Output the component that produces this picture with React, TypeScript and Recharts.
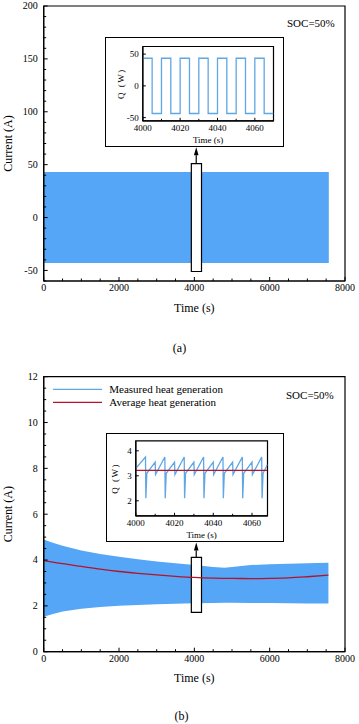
import React from 'react';
import { ComposedChart, LineChart, Line, Area, XAxis, YAxis, ReferenceArea, ReferenceLine } from 'recharts';

const FONT = "'Liberation Serif', 'Times New Roman', Times, serif";
const BAND_BLUE = '#55A6F6';
const LINE_BLUE = '#5EA6E4';
const RED = '#B3142C';

// ---------- (a) main chart ----------
const A_TIME = [0, 7570];
const A_LOW = [-43, -43];
const A_HIGH = [43, 43];
const A_X_TICKS = [0, 500, 1000, 1500, 2000, 2500, 3000, 3500, 4000, 4500, 5000, 5500, 6000, 6500, 7000, 7500, 8000];
const A_X_LABELS = [0, 2000, 4000, 6000, 8000];
const A_Y_TICKS = [-60, -50, -40, -30, -20, -10, 0, 10, 20, 30, 40, 50, 60, 70, 80, 90, 100, 110, 120, 130, 140, 150, 160, 170, 180, 190, 200];
const A_Y_LABELS = [-50, 0, 50, 100, 150, 200];

// ---------- (a) inset ----------
const A_IN_TIME = [4000, 4005, 4005, 4010, 4010, 4015, 4015, 4020, 4020, 4025, 4025, 4030, 4030, 4035, 4035, 4040, 4040, 4045, 4045, 4050, 4050, 4055, 4055, 4060, 4060, 4065, 4065, 4070];
const A_IN_Q = [43.5, 43.5, -43.5, -43.5, 43.5, 43.5, -43.5, -43.5, 43.5, 43.5, -43.5, -43.5, 43.5, 43.5, -43.5, -43.5, 43.5, 43.5, -43.5, -43.5, 43.5, 43.5, -43.5, -43.5, 43.5, 43.5, -43.5, -43.5];
const A_IN_X_TICKS = [4000, 4010, 4020, 4030, 4040, 4050, 4060, 4070];
const A_IN_X_LABELS = [4000, 4020, 4040, 4060];
const A_IN_Y_TICKS = [-50, 0, 50];

// ---------- (b) main chart ----------
const B_TIME = [0, 200, 500, 1000, 1500, 2000, 2500, 3000, 3500, 4000, 4500, 4800, 5000, 5500, 6000, 6500, 7000, 7560];
const B_UPPER = [4.9, 4.78, 4.62, 4.42, 4.26, 4.14, 4.03, 3.94, 3.86, 3.78, 3.7, 3.66, 3.7, 3.78, 3.82, 3.84, 3.86, 3.88];
const B_LOWER = [1.52, 1.62, 1.75, 1.87, 1.95, 2.0, 2.04, 2.07, 2.09, 2.11, 2.13, 2.14, 2.14, 2.13, 2.12, 2.11, 2.1, 2.1];
const B_AVG = [3.97, 3.92, 3.84, 3.72, 3.6, 3.5, 3.42, 3.35, 3.29, 3.24, 3.21, 3.2, 3.2, 3.19, 3.2, 3.22, 3.27, 3.34];
const B_X_TICKS = A_X_TICKS;
const B_X_LABELS = A_X_LABELS;
const B_Y_TICKS = [0, 0.5, 1, 1.5, 2, 2.5, 3, 3.5, 4, 4.5, 5, 5.5, 6, 6.5, 7, 7.5, 8, 8.5, 9, 9.5, 10, 10.5, 11, 11.5, 12];
const B_Y_LABELS = [0, 2, 4, 6, 8, 10, 12];

// ---------- (b) inset ----------
const B_IN_TIME = [4000, 4005, 4005.2, 4005.7, 4010, 4010.2, 4015, 4015.2, 4015.7, 4020, 4020.2, 4025, 4025.2, 4025.7, 4030, 4030.2, 4035, 4035.2, 4035.7, 4040, 4040.2, 4045, 4045.2, 4045.7, 4050, 4050.2, 4055, 4055.2, 4055.7, 4060, 4060.2, 4065, 4065.2, 4065.7, 4068];
const B_IN_Q = [3.3, 3.75, 2.1, 3.1, 3.55, 3.05, 3.75, 2.1, 3.1, 3.55, 3.05, 3.75, 2.1, 3.1, 3.55, 3.05, 3.75, 2.1, 3.1, 3.55, 3.05, 3.75, 2.1, 3.1, 3.55, 3.05, 3.75, 2.1, 3.1, 3.55, 3.05, 3.75, 2.1, 3.1, 3.45];
const B_IN_AVG_TIME = [4000, 4068];
const B_IN_AVG = [3.22, 3.22];
const B_IN_X_TICKS = [4000, 4010, 4020, 4030, 4040, 4050, 4060];
const B_IN_X_LABELS = [4000, 4020, 4040, 4060];
const B_IN_Y_TICKS = [2, 3, 4];

// ---------- tables ----------
const aData = A_TIME.map((t, i) => ({ t, band: [A_LOW[i], A_HIGH[i]] }));
const aInData = A_IN_TIME.map((t, i) => ({ t, q: A_IN_Q[i] }));
const bData = B_TIME.map((t, i) => ({ t, band: [B_LOWER[i], B_UPPER[i]], avg: B_AVG[i] }));
const bInData = B_IN_TIME.map((t, i) => ({ t, q: B_IN_Q[i] }));
const bInAvgData = B_IN_AVG_TIME.map((t, i) => ({ t, avg: B_IN_AVG[i] }));

const leftTick = (labels: number[], margin: number, majorLen: number, minorLen: number, fs: number) => (props: any) => {
  const { x, y, payload } = props;
  const v = payload.value;
  const major = labels.includes(v);
  const ax = x + margin;
  return (
    <g>
      <line x1={ax} x2={ax + (major ? majorLen : minorLen)} y1={y} y2={y} stroke="#000" strokeWidth={1} />
      {major && (
        <text x={x} y={y} dy="0.34em" textAnchor="end" fontSize={fs} fontFamily={FONT} fill="#000">{String(v)}</text>
      )}
    </g>
  );
};

const bottomTick = (labels: number[], margin: number, majorLen: number, minorLen: number, fs: number) => (props: any) => {
  const { x, y, payload } = props;
  const v = payload.value;
  const major = labels.includes(v);
  const ay = y - margin;
  return (
    <g>
      <line x1={x} x2={x} y1={ay} y2={ay - (major ? majorLen : minorLen)} stroke="#000" strokeWidth={1} />
      {major && (
        <text x={x} y={y} dy="0.78em" textAnchor="middle" fontSize={fs} fontFamily={FONT} fill="#000">{String(v)}</text>
      )}
    </g>
  );
};

// dx measured from the axis line (right edge of the y-axis box)
const vLabel = (text: string, dx: number, fs: number, spacing = 0) => (props: any) => {
  const vb = props.viewBox || {};
  const cx = vb.x + vb.width + dx;
  const cy = vb.y + vb.height / 2;
  return (
    <text x={cx} y={cy} transform={`rotate(-90 ${cx} ${cy})`} textAnchor="middle" dominantBaseline="central" fontSize={fs} fontFamily={FONT} fill="#000" letterSpacing={spacing}>{text}</text>
  );
};

// dy measured from the axis line (top of the x-axis box)
const hLabel = (text: string, dy: number, fs: number) => (props: any) => {
  const vb = props.viewBox || {};
  const cx = vb.x + vb.width / 2;
  const cy = vb.y + dy;
  return (
    <text x={cx} y={cy} textAnchor="middle" dominantBaseline="central" fontSize={fs} fontFamily={FONT} fill="#000">{text}</text>
  );
};

const Arrow = (p: any) => {
  const { x1, y1, x2, y2 } = p;
  const headLen = 8;
  const headW = 2.3;
  const dir = y2 < y1 ? -1 : 1;
  const baseY = y2 - dir * headLen;
  return (
    <g>
      <line x1={x1} y1={y1} x2={x2} y2={baseY} stroke="#000" strokeWidth={1.2} />
      <polygon points={`${x2},${y2} ${x2 - headW},${baseY} ${x2 + headW},${baseY}`} fill="#000" />
    </g>
  );
};

const abs = (left: number, top: number, extra: React.CSSProperties = {}): React.CSSProperties => ({
  position: 'absolute', left, top, ...extra,
});

const textStyle = (fs: number): React.CSSProperties => ({ fontFamily: FONT, fontSize: fs, lineHeight: `${fs + 1}px`, color: '#000', whiteSpace: 'nowrap' });

export default function App() {
  return (
    <div style={{ position: 'absolute', left: 0, top: 0, width: 359, height: 724, background: '#fff', fontFamily: FONT }}>
      {/* ===== (a) ===== */}
      <div style={abs(0, 0)}>
        <ComposedChart width={359} height={330} data={aData} margin={{ top: 6, right: 14, bottom: 19, left: 3.7 }}>
          <XAxis dataKey="t" type="number" domain={[0, 8000]} ticks={A_X_TICKS} interval={0} allowDataOverflow
            height={30} tickSize={0} tickMargin={2} tickLine={false} axisLine={{ stroke: '#000', strokeWidth: 1.2 }}
            tick={bottomTick(A_X_LABELS, 2, 4, 2.5, 10)} label={{ content: hLabel('Time (s)', 27, 12) }} />
          <YAxis type="number" domain={[-60, 200]} ticks={A_Y_TICKS} interval={0} allowDataOverflow
            width={40} tickSize={0} tickMargin={6} tickLine={false} axisLine={{ stroke: '#000', strokeWidth: 1.2 }}
            tick={leftTick(A_Y_LABELS, 6, 4, 2.5, 10)} label={{ content: vLabel('Current (A)', -36, 12) }} />
          <Area dataKey="band" type="linear" stroke="none" fill={BAND_BLUE} fillOpacity={1} isAnimationActive={false} />
          <ReferenceArea x1={3920} x2={4190} y1={-51} y2={51} fill="#fff" fillOpacity={1} stroke="#000" strokeWidth={1.2} />
          <ReferenceLine segment={[{ x: 4050, y: 51 }, { x: 4050, y: 66.5 }]} shape={Arrow} />
          <ReferenceArea x1={0} x2={8000} y1={-60} y2={200} fill="none" stroke="#000" strokeWidth={1.2} ifOverflow="visible" />
        </ComposedChart>
      </div>
      <div style={abs(287, 17, textStyle(11))}>SOC=50%</div>

      {/* (a) inset */}
      <div style={abs(105, 36.7, { width: 179, height: 110, border: '1.5px solid #000', boxSizing: 'border-box', background: '#fff' })}>
        <LineChart width={176} height={107} data={aInData} margin={{ top: 8.5, right: 8.5, bottom: 4.2, left: 6.8 }}>
          <XAxis dataKey="t" type="number" domain={[4000, 4070]} ticks={A_IN_X_TICKS} interval={0} allowDataOverflow
            height={20} tickSize={0} tickMargin={3.5} tickLine={false} axisLine={{ stroke: '#000', strokeWidth: 1.2 }}
            tick={bottomTick(A_IN_X_LABELS, 3.5, 3, 2, 9)} label={{ content: hLabel('Time (s)', 19, 9) }} />
          <YAxis type="number" domain={[-55, 62]} ticks={A_IN_Y_TICKS} interval={0} allowDataOverflow
            width={30} tickSize={0} tickMargin={4} tickLine={false} axisLine={{ stroke: '#000', strokeWidth: 1.2 }}
            tick={leftTick(A_IN_Y_TICKS, 4, 3, 2, 9)} label={{ content: vLabel('Q (W)', -21.6, 9, 1.5) }} />
          <Line dataKey="q" type="linear" stroke={LINE_BLUE} strokeWidth={1.3} dot={false} isAnimationActive={false} />
          <ReferenceArea x1={4000} x2={4070} y1={-55} y2={62} fill="none" stroke="#000" strokeWidth={1.2} ifOverflow="visible" />
        </LineChart>
      </div>

      <div style={abs(0, 342, textStyle(12))}>
        <span style={{ position: 'absolute', left: 179.5, transform: 'translateX(-50%)' }}>(a)</span>
      </div>

      {/* ===== (b) ===== */}
      <div style={abs(0, 360)}>
        <ComposedChart width={359} height={364} data={bData} margin={{ top: 16.7, right: 14, bottom: 42.3, left: 3.7 }}>
          <XAxis dataKey="t" type="number" domain={[0, 8000]} ticks={B_X_TICKS} interval={0} allowDataOverflow
            height={30} tickSize={0} tickMargin={2.5} tickLine={false} axisLine={{ stroke: '#000', strokeWidth: 1.2 }}
            tick={bottomTick(B_X_LABELS, 2.5, 4, 2.5, 10)} label={{ content: hLabel('Time (s)', 26.5, 12) }} />
          <YAxis type="number" domain={[0, 12]} ticks={B_Y_TICKS} interval={0} allowDataOverflow
            width={40} tickSize={0} tickMargin={6} tickLine={false} axisLine={{ stroke: '#000', strokeWidth: 1.2 }}
            tick={leftTick(B_Y_LABELS, 6, 4, 2.5, 10)} label={{ content: vLabel('Current (A)', -36, 12) }} />
          <Area dataKey="band" type="linear" stroke="none" fill={BAND_BLUE} fillOpacity={1} isAnimationActive={false} />
          <Line dataKey="avg" type="monotone" stroke={RED} strokeWidth={1.3} dot={false} isAnimationActive={false} />
          <ReferenceArea x1={3920} x2={4190} y1={1.72} y2={4.12} fill="#fff" fillOpacity={1} stroke="#000" strokeWidth={1.2} />
          <ReferenceLine segment={[{ x: 4050, y: 4.12 }, { x: 4050, y: 4.76 }]} shape={Arrow} />
          <ReferenceArea x1={0} x2={8000} y1={0} y2={12} fill="none" stroke="#000" strokeWidth={1.2} ifOverflow="visible" />
        </ComposedChart>
      </div>
      <div style={abs(286, 389, textStyle(11))}>SOC=50%</div>

      {/* legend (b) */}
      <div style={abs(53, 383)}>
        <svg width={50} height={24} style={{ position: 'absolute', left: 0, top: 0 }}>
          <line x1={0} x2={49} y1={6.3} y2={6.3} stroke={LINE_BLUE} strokeWidth={1.3} />
          <line x1={0} x2={49} y1={19.3} y2={19.3} stroke={RED} strokeWidth={1.3} />
        </svg>
        <div style={abs(56.3, 0, textStyle(11))}>Measured heat generation</div>
        <div style={abs(56.3, 13, textStyle(11))}>Average heat generation</div>
      </div>

      {/* (b) inset */}
      <div style={abs(105.7, 432.7, { width: 178.3, height: 109, border: '1.5px solid #000', boxSizing: 'border-box', background: '#fff' })}>
        <LineChart width={175} height={106} data={bInData} margin={{ top: 6.8, right: 14.5, bottom: 4.2, left: 3.8 }}>
          <XAxis dataKey="t" type="number" domain={[4000, 4068]} ticks={B_IN_X_TICKS} interval={0} allowDataOverflow
            height={20} tickSize={0} tickMargin={3.5} tickLine={false} axisLine={{ stroke: '#000', strokeWidth: 1.2 }}
            tick={bottomTick(B_IN_X_LABELS, 3.5, 3, 2, 9)} label={{ content: hLabel('Time (s)', 19, 9) }} />
          <YAxis type="number" domain={[1.4, 4.4]} ticks={B_IN_Y_TICKS} interval={0} allowDataOverflow
            width={25} tickSize={0} tickMargin={4} tickLine={false} axisLine={{ stroke: '#000', strokeWidth: 1.2 }}
            tick={leftTick(B_IN_Y_TICKS, 4, 3, 2, 9)} label={{ content: vLabel('Q (W)', -21, 9, 1.5) }} />
          <Line dataKey="q" type="linear" stroke={LINE_BLUE} strokeWidth={1.3} dot={false} isAnimationActive={false} />
          <Line data={bInAvgData} dataKey="avg" type="linear" stroke={RED} strokeWidth={1.3} dot={false} isAnimationActive={false} />
          <ReferenceArea x1={4000} x2={4068} y1={1.4} y2={4.4} fill="none" stroke="#000" strokeWidth={1.2} ifOverflow="visible" />
        </LineChart>
      </div>

      <div style={abs(0, 710, textStyle(12))}>
        <span style={{ position: 'absolute', left: 181.5, transform: 'translateX(-50%)' }}>(b)</span>
      </div>
    </div>
  );
}
